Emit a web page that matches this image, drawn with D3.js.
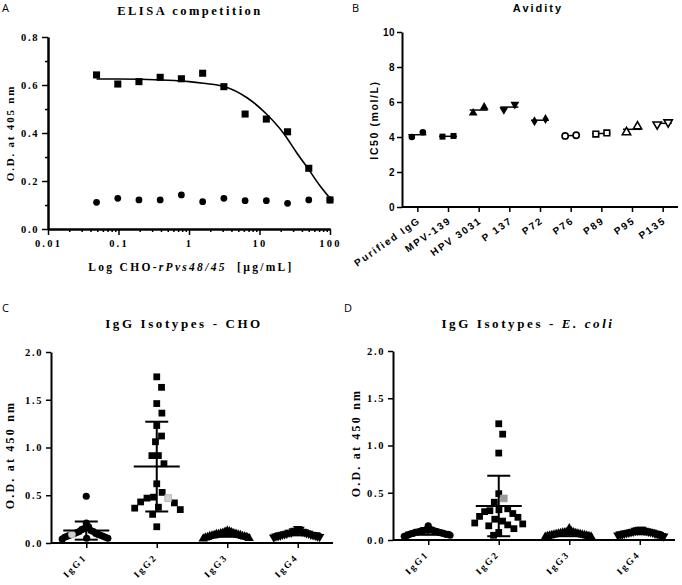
<!DOCTYPE html>
<html><head><meta charset="utf-8">
<script src="https://cdn.jsdelivr.net/npm/d3@7"></script>
<style>
body{margin:0;background:#fff}
svg{display:block}
</style></head><body>
<svg id="chart" width="682" height="585"></svg>
<script>
// ================= DATA =================
// Panel A – ELISA competition
const concA = [0.0488, 0.0977, 0.195, 0.39, 0.78, 1.5625, 3.125, 6.25, 12.5, 25, 50, 100];
const competitorOD = [0.642, 0.604, 0.614, 0.632, 0.626, 0.649, 0.593, 0.479, 0.458, 0.405, 0.253, 0.121];
const controlOD = [0.111, 0.128, 0.121, 0.121, 0.142, 0.114, 0.128, 0.118, 0.118, 0.107, 0.121, 0.121];
const fitConc = [0.0488, 0.1, 0.2, 0.5, 1, 1.6, 3.24, 6.58, 12.65, 21.8, 33.7, 52, 72.1, 100];
const fitOD = [0.625, 0.625, 0.624, 0.620, 0.614, 0.607, 0.593, 0.548, 0.478, 0.400, 0.318, 0.240, 0.180, 0.128];
const xTicksA = [0.01, 0.1, 1, 10, 100];
const yTicksA = [0, 0.2, 0.4, 0.6, 0.8];

// Panel B – Avidity
const avidityCats = ["Purified IgG", "MPV-139", "HPV 3031", "P 137", "P72", "P76", "P89", "P95", "P135"];
const avidityRep1 = [4.00, 4.02, 5.37, 5.56, 4.90, 4.06, 4.17, 4.27, 4.72];
const avidityRep2 = [4.27, 4.06, 5.71, 5.87, 5.03, 4.10, 4.23, 4.60, 4.84];
const avidityMean = [4.13, 4.04, 5.54, 5.71, 4.96, 4.08, 4.20, 4.44, 4.78];
const yTicksB = [0, 2, 4, 6, 8, 10];

// Panels C & D – IgG isotypes
const isoCats = ["IgG1", "IgG2", "IgG3", "IgG4"];
const yTicksCD = [0, 0.5, 1.0, 1.5, 2.0];

const choIgG1 = [0.49, 0.21, 0.17, 0.15, 0.14, 0.13, 0.12, 0.12, 0.11, 0.10, 0.10, 0.08, 0.08, 0.07, 0.07, 0.06, 0.06, 0.05, 0.05, 0.04, 0.09];
const choIgG2 = [1.74, 1.63, 1.46, 1.36, 1.23, 1.12, 1.06, 0.915, 0.915, 0.83, 0.62, 0.53, 0.47, 0.43, 0.48, 0.42, 0.365, 0.35, 0.375, 0.30, 0.17];
const choIgG3 = [0.125, 0.12, 0.115, 0.11, 0.105, 0.10, 0.10, 0.095, 0.09, 0.09, 0.085, 0.08, 0.08, 0.075, 0.07, 0.07, 0.065, 0.06, 0.06, 0.055, 0.05, 0.045];
const choIgG4 = [0.15, 0.14, 0.13, 0.125, 0.12, 0.115, 0.11, 0.11, 0.105, 0.10, 0.10, 0.095, 0.09, 0.09, 0.085, 0.08, 0.08, 0.075, 0.07, 0.07, 0.065, 0.06];
const choHighlight = [0.09, 0.47, null, null];
const choMean = [0.13, 0.80, 0.085, 0.10];
const choSD = [0.095, 0.47, 0.02, 0.02];

const ecoIgG1 = [0.15, 0.11, 0.11, 0.105, 0.10, 0.10, 0.095, 0.09, 0.09, 0.085, 0.08, 0.08, 0.075, 0.07, 0.07, 0.065, 0.06, 0.06, 0.055, 0.05, 0.045, 0.04];
const ecoIgG2 = [1.23, 1.12, 0.92, 0.49, 0.40, 0.33, 0.32, 0.31, 0.30, 0.28, 0.25, 0.24, 0.22, 0.20, 0.18, 0.17, 0.16, 0.15, 0.12, 0.08, 0.05];
const ecoIgG3 = [0.12, 0.09, 0.085, 0.08, 0.08, 0.075, 0.07, 0.07, 0.065, 0.065, 0.06, 0.06, 0.055, 0.055, 0.05, 0.05, 0.045, 0.045, 0.04, 0.04, 0.035, 0.03];
const ecoIgG4 = [0.11, 0.11, 0.105, 0.10, 0.10, 0.095, 0.09, 0.09, 0.085, 0.085, 0.08, 0.08, 0.075, 0.07, 0.07, 0.065, 0.06, 0.06, 0.055, 0.05, 0.045, 0.04];
const ecoHighlight = [null, 0.44, null, null];
const ecoMean = [0.08, 0.36, 0.06, 0.08];
const ecoSD = [0.025, 0.32, 0.02, 0.02];

// ================= STYLE =================
const SERIF = "'Liberation Serif','Times New Roman',serif";
const SANS = "'Liberation Sans',Arial,sans-serif";
const LETTER = "'Open Sans','DejaVu Sans',sans-serif";

const svg = d3.select("#chart");

function sym(type, size) {
  const map = {circle: d3.symbolCircle, square: d3.symbolSquare, triangle: d3.symbolTriangle,
               triangleDown: d3.symbolTriangle, diamond: d3.symbolDiamond};
  return d3.symbol(map[type], size)();
}
function drawSym(g, type, size, x, y, fill, stroke, sw) {
  g.append("path").attr("d", sym(type, size))
    .attr("transform", `translate(${x},${y})` + (type === "triangleDown" ? " rotate(180)" : ""))
    .attr("fill", fill).attr("stroke", stroke || "none").attr("stroke-width", sw || 0);
}
function styleAxis(g, fontFam, fontSize, spacing) {
  g.select(".domain").attr("stroke", "#000").attr("stroke-width", 2);
  g.selectAll(".tick line").attr("stroke", "#000").attr("stroke-width", 1.5);
  g.selectAll(".tick text").attr("fill", "#000").attr("font-family", fontFam)
    .attr("font-size", fontSize).attr("font-weight", "bold").style("letter-spacing", spacing + "px");
}
function panelLetter(t, x, y) {
  svg.append("text").attr("x", x).attr("y", y).text(t)
    .attr("font-family", LETTER).attr("font-size", 11).attr("fill", "#000");
}

// ================= PANEL A =================
(function () {
  const g = svg.append("g");
  const x = d3.scaleLog().domain([0.01, 100]).range([48, 330]);
  const y = d3.scaleLinear().domain([0, 0.8]).range([229, 37]);

  panelLetter("A", 2, 12);
  g.append("text").attr("x", 190).attr("y", 15).attr("text-anchor", "middle")
    .attr("font-family", SERIF).attr("font-weight", "bold").attr("font-size", 12.5)
    .style("letter-spacing", "2.5px").text("ELISA competition");

  const minorX = [];
  [0.01, 0.1, 1, 10].forEach(d => { for (let k = 2; k <= 9; k++) minorX.push(d * k); });
  g.append("g").attr("transform", "translate(0,229)")
    .call(d3.axisBottom(x).tickValues(minorX).tickSize(3).tickFormat("").tickSizeOuter(0))
    .call(a => styleAxis(a, SERIF, 10, 1.5));
  g.append("g").attr("transform", "translate(0,229)")
    .call(d3.axisBottom(x).tickValues(xTicksA).tickSize(6).tickPadding(5).tickSizeOuter(0)
      .tickFormat(d => d >= 1 ? d3.format("d")(d) : String(d)))
    .call(a => styleAxis(a, SERIF, 10.5, 2.2));

  g.append("g").attr("transform", "translate(48,0)")
    .call(d3.axisLeft(y).tickValues([0.1, 0.3, 0.5, 0.7]).tickSize(3).tickFormat("").tickSizeOuter(0))
    .call(a => styleAxis(a, SERIF, 10, 1.5));
  g.append("g").attr("transform", "translate(48,0)")
    .call(d3.axisLeft(y).tickValues(yTicksA).tickSize(6).tickPadding(3).tickSizeOuter(0).tickFormat(d3.format(".1f")))
    .call(a => styleAxis(a, SERIF, 10.5, 1.6));

  g.append("text").attr("transform", "translate(14,133) rotate(-90)").attr("text-anchor", "middle")
    .attr("font-family", SERIF).attr("font-weight", "bold").attr("font-size", 11)
    .style("letter-spacing", "1.8px").text("O.D. at 405 nm");

  const xl = g.append("text").attr("x", 191).attr("y", 271).attr("text-anchor", "middle")
    .attr("font-family", SERIF).attr("font-weight", "bold").attr("font-size", 11.5)
    .style("letter-spacing", "2.3px");
  xl.append("tspan").text("Log CHO-");
  xl.append("tspan").attr("font-style", "italic").text("rPvs48/45");
  xl.append("tspan").text("\u00a0 [µg/mL]");

  const line = d3.line().x((d, i) => x(fitConc[i])).y((d, i) => y(fitOD[i])).curve(d3.curveMonotoneX);
  g.append("path").attr("d", line(fitOD)).attr("fill", "none").attr("stroke", "#000").attr("stroke-width", 1.6);

  controlOD.forEach((v, i) => drawSym(g, "circle", 36, x(concA[i]), y(v), "#000"));
  competitorOD.forEach((v, i) => drawSym(g, "square", 50, x(concA[i]), y(v), "#000"));
})();

// ================= PANEL B =================
(function () {
  const g = svg.append("g");
  const x = d3.scalePoint().domain(avidityCats).range([402, 678]).padding(0.5);
  const y = d3.scaleLinear().domain([0, 10]).range([207, 32]);
  const shapes = ["circle", "square", "triangle", "triangleDown", "diamond", "circle", "square", "triangle", "triangleDown"];
  const open = [false, false, false, false, false, true, true, true, true];
  const sizes = {circle: 34, square: 36, triangle: 34, triangleDown: 34, diamond: 30};

  panelLetter("B", 352, 12);
  g.append("text").attr("x", 538).attr("y", 12).attr("text-anchor", "middle")
    .attr("font-family", SANS).attr("font-weight", "bold").attr("font-size", 11)
    .style("letter-spacing", "2px").text("Avidity");

  const xa = g.append("g").attr("transform", "translate(0,207)")
    .call(d3.axisBottom(x).tickSize(5).tickSizeOuter(0).tickFormat(""))
    .call(a => styleAxis(a, SANS, 9.5, 1.5));
  xa.select(".domain").attr("d", "M402,0H678");
  g.append("g").attr("transform", "translate(402,0)")
    .call(d3.axisLeft(y).tickValues(yTicksB).tickSize(5).tickPadding(2).tickSizeOuter(0))
    .call(a => styleAxis(a, SANS, 10, 0.5));

  avidityCats.forEach(c => {
    g.append("text").attr("transform", `translate(${x(c) + 4},${222}) rotate(-35)`)
      .attr("text-anchor", "end")
      .attr("font-family", SANS).attr("font-weight", "bold").attr("font-size", 10)
      .style("letter-spacing", "1.8px").text(c);
  });

  g.append("text").attr("transform", "translate(378,120) rotate(-90)").attr("text-anchor", "middle")
    .attr("font-family", SANS).attr("font-weight", "bold").attr("font-size", 10.5)
    .style("letter-spacing", "1.6px").text("IC50 (mol/L)");

  avidityCats.forEach((c, i) => {
    const cx = x(c);
    g.append("line").attr("x1", cx - 9).attr("x2", cx + 9).attr("y1", y(avidityMean[i])).attr("y2", y(avidityMean[i]))
      .attr("stroke", "#000").attr("stroke-width", 1.5);
    [[avidityRep1[i], -5.5], [avidityRep2[i], 5.5]].forEach(([v, off]) => {
      if (open[i]) drawSym(g, shapes[i], sizes[shapes[i]] - 4, cx + off, y(v), "#fff", "#000", 1.6);
      else drawSym(g, shapes[i], sizes[shapes[i]], cx + off, y(v), "#000");
    });
  });
})();

// ================= PANELS C & D =================
// beeswarm with an elliptical exclusion zone (dx within d, dy within d/sy)
function swarm(values, y, d, sy, maxHalf) {
  const pts = values.map(v => ({v: v.v, gray: v.gray, py: y(v.v), dx: 0}));
  pts.forEach(p => p.ps = p.py * sy);
  const order = pts.slice().sort((a, b) => a.py - b.py);
  const placed = [];
  order.forEach(p => {
    const cands = [0];
    placed.forEach(q => {
      const dy = Math.abs(q.ps - p.ps);
      if (dy < d) { const h = Math.sqrt(d * d - dy * dy); cands.push(q.dx + h + 0.01, q.dx - h - 0.01); }
    });
    cands.sort((a, b) => Math.abs(a) - Math.abs(b));
    for (const c of cands) {
      if (placed.every(q => (q.dx - c) ** 2 + (q.ps - p.ps) ** 2 >= d * d - 0.001)) { p.dx = c; break; }
    }
    placed.push(p);
  });
  const m = d3.max(pts, p => Math.abs(p.dx));
  if (m > maxHalf) pts.forEach(p => p.dx *= maxHalf / m);
  return pts;
}

function isoPanel(opt) {
  const g = svg.append("g");
  const x = d3.scalePoint().domain(isoCats).range([opt.x0, opt.x1]).padding(0.5);
  const y = d3.scaleLinear().domain([0, 2]).range([opt.y0, opt.y1]);

  panelLetter(opt.letter, opt.lx, 312);
  const t = g.append("text").attr("x", opt.tx).attr("y", 328).attr("text-anchor", "middle")
    .attr("font-family", SERIF).attr("font-weight", "bold").attr("font-size", 13)
    .style("letter-spacing", "2.6px");
  opt.title(t);

  g.append("g").attr("transform", `translate(0,${opt.y0})`)
    .call(d3.axisBottom(x).tickSize(5).tickSizeOuter(0).tickFormat(""))
    .call(a => styleAxis(a, SERIF, 9, 1))
    .select(".domain").attr("d", `M${opt.x0},0H${opt.x1}`);
  g.append("g").attr("transform", `translate(${opt.x0},0)`)
    .call(d3.axisLeft(y).tickValues(yTicksCD).tickSize(5).tickPadding(3).tickSizeOuter(0).tickFormat(d3.format(".1f")))
    .call(a => styleAxis(a, SERIF, 10.5, 1.6));

  isoCats.forEach(c => {
    g.append("text").attr("transform", `translate(${x(c) + 1},${opt.y0 + 15}) rotate(-45)`)
      .attr("text-anchor", "end")
      .attr("font-family", SERIF).attr("font-weight", "bold").attr("font-size", 9.5)
      .style("letter-spacing", "2px").text(c);
  });

  g.append("text").attr("transform", `translate(${opt.ylx},${opt.yly}) rotate(-90)`).attr("text-anchor", "middle")
    .attr("font-family", SERIF).attr("font-weight", "bold").attr("font-size", 12)
    .style("letter-spacing", "2.2px").text("O.D. at 450 nm");

  const shapes = ["circle", "square", "triangle", "triangleDown"];
  const sizes = [40, 46, 40, 40];
  opt.groups.forEach((vals, i) => {
    const items = vals.map(v => ({v, gray: false}));
    if (opt.highlight[i] != null) items.push({v: opt.highlight[i], gray: true});
    const cx = x(isoCats[i]);
    const pts = swarm(items, y, 6.5, 0.42, 24);
    pts.filter(p => !p.gray).forEach(p => drawSym(g, shapes[i], sizes[i], cx + p.dx, p.py, "#000"));
    pts.filter(p => p.gray).forEach(p => drawSym(g, shapes[i], sizes[i], cx + p.dx, p.py, opt.grayFill, opt.grayStroke, 0.8));
    const m = opt.mean[i], s = opt.sd[i];
    const ln = (x1, x2, y1, y2) => g.append("line").attr("x1", x1).attr("x2", x2).attr("y1", y1).attr("y2", y2)
      .attr("stroke", "#000").attr("stroke-width", 2);
    ln(cx, cx, y(m - s), y(m + s));
    ln(cx - 11.5, cx + 11.5, y(m + s), y(m + s));
    ln(cx - 11.5, cx + 11.5, y(m - s), y(m - s));
    ln(cx - 23, cx + 23, y(m), y(m));
  });
}

isoPanel({
  letter: "C", lx: 2, x0: 51, x1: 333, y0: 543, y1: 352, tx: 184,
  ylx: 14, yly: 455,
  title: t => t.text("IgG Isotypes - CHO"),
  groups: [choIgG1, choIgG2, choIgG3, choIgG4], highlight: choHighlight,
  mean: choMean, sd: choSD, grayFill: "#d2d2d2", grayStroke: "#aaa"
});
isoPanel({
  letter: "D", lx: 344, x0: 393, x1: 675, y0: 540, y1: 351, tx: 528,
  ylx: 360, yly: 443,
  title: t => { t.append("tspan").text("IgG Isotypes - "); t.append("tspan").attr("font-style", "italic").text("E. coli"); },
  groups: [ecoIgG1, ecoIgG2, ecoIgG3, ecoIgG4], highlight: ecoHighlight,
  mean: ecoMean, sd: ecoSD, grayFill: "#9a9a9a", grayStroke: "#9a9a9a"
});
</script>
</body></html>
